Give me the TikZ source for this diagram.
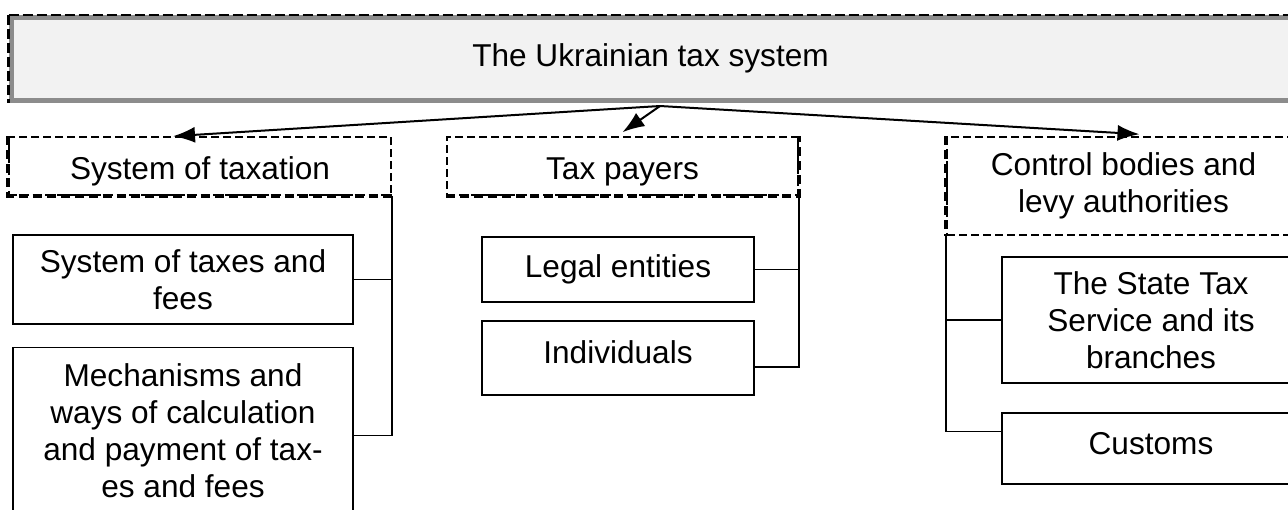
\documentclass[tikz,border=0pt]{standalone}
\usepackage{fontspec}
\setmainfont{Liberation Sans}
\usepackage{tikz}
\usetikzlibrary{arrows.meta}
\usetikzlibrary{positioning}

\begin{document}
\begin{tikzpicture}[x=0.5pt, y=-0.5pt,
    every node/.style={align=center, font=\fontsize{15.8}{18.5}\selectfont, inner sep=0pt},
    topbox/.style={draw=black!45, fill=black!5, line width=2.5pt, minimum width=639.5pt, minimum height=41.5pt},
    dashbox/.style={draw, line width=0.8pt, dash pattern=on 4pt off 2pt},
    thickdash/.style={line width=2pt, dash pattern=on 4.5pt off 2.5pt},
    itembox/.style={draw, line width=0.9pt},
    lowtext/.style={text height=13pt, text depth=0pt},
    link/.style={line width=0.9pt},
    arr/.style={line width=1pt, -{Latex[length=11pt,width=8pt]}}]
    \clip (0,0) rectangle (1288,509);

    \node[topbox] (top) at (650.5,58.5) {The Ukrainian tax system};
    \draw[line width=1pt, dash pattern=on 5pt off 2pt] (top.north west) -- (top.north east);
    \draw[line width=1.5pt, dash pattern=on 5pt off 2pt] (top.north west) -- (top.south west);

    \node[dashbox, lowtext, minimum width=191pt, minimum height=29pt] (taxation) at (200,166) {System of taxation};
    \node[dashbox, lowtext, minimum width=175.5pt, minimum height=29pt] (payers) at (622.5,166) {Tax payers};
    \node[dashbox, minimum width=176.5pt, minimum height=49pt] (control) at (1123.5,186) {Control bodies and\\levy authorities};
    \draw[thickdash] (taxation.north west) -- (taxation.south west) -- (taxation.south east);
    \draw[thickdash] (payers.south west) -- (payers.south east) -- (payers.north east);
    \draw[thickdash] (control.north west) -- (control.south west);

    \node[itembox, minimum width=170pt, minimum height=44.5pt] (fees) at (183,279.5) {System of taxes and\\fees};
    \node[itembox, minimum width=170pt, minimum height=83pt] (mech) at (183,430.5) {Mechanisms and\\ways of calculation\\and payment of tax-\\es and fees};
    \node[itembox, minimum width=136pt, minimum height=32.5pt] (legal) at (618,269.5) {Legal entities};
    \node[itembox, text height=11pt, text depth=6pt, minimum width=136pt, minimum height=37pt] (indiv) at (618,358) {Individuals};
    \node[itembox, minimum width=149pt, minimum height=63pt] (state) at (1151,320) {The State Tax\\Service and its\\branches};
    \node[itembox, text height=11pt, text depth=5pt, minimum width=149pt, minimum height=35.5pt] (customs) at (1151,448.5) {Customs};

    \coordinate (hub) at (660,106);
    \draw[arr] (hub) -- ([xshift=-13.5pt]taxation.north);
    \draw[arr] (hub) -- ([yshift=2pt]payers.north);
    \draw[arr] (hub) -- ([xshift=8pt, yshift=1pt]control.north);

    \draw[link] (taxation.south east) -- ([yshift=-2.5pt]taxation.south east |- mech.east) -- ([yshift=-2.5pt]mech.east);
    \draw[link] (fees.east) -- (fees.east -| taxation.south east);
    \draw[link] (payers.south east) -- ([yshift=-4.5pt]payers.south east |- indiv.east) -- ([yshift=-4.5pt]indiv.east);
    \draw[link] (legal.east) -- (legal.east -| payers.south east);
    \draw[link] (control.south west) -- ([yshift=8.5pt]control.south west |- customs.west) -- ([yshift=8.5pt]customs.west);
    \draw[link] (state.west) -- (state.west -| control.south west);
\end{tikzpicture}
\end{document}
